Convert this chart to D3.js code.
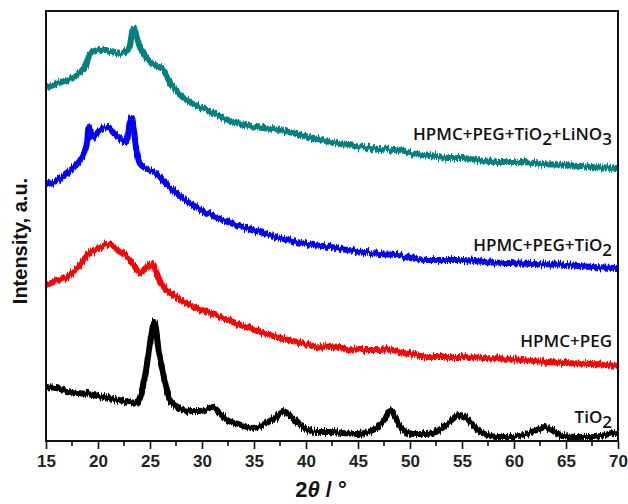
<!DOCTYPE html>
<html><head><meta charset="utf-8">
<script src="https://cdn.jsdelivr.net/npm/d3@7/dist/d3.min.js"></script>
<style>body{margin:0;background:#fff}svg{display:block}</style>
</head><body>
<svg id="chart" width="628" height="504"></svg>
<script>
// ---- data (2θ in degrees, intensity in arbitrary units, offset traces) ----
const xTickValues = [15,20,25,30,35,40,45,50,55,60,65,70];

const lino3Pattern = [[15,353],[16,357],[17,361],[17.6,364],[18.5,371],[18.9,377],[19.2,387],[19.6,390],[20.2,391],[20.7,391],[21.2,389],[21.7,388],[22.1,387],[22.6,389],[23.0,393],[23.4,413],[23.8,401],[24.2,391],[25,379],[25.7,375],[26.3,371],[26.9,359],[27.8,347],[28.8,339],[30.5,331],[32,323],[33.7,317],[35.9,313],[37.5,311],[39.1,307],[40.7,303],[42.3,299],[44,296],[45.5,294],[47,292],[48.5,291],[50,288],[51.9,285],[54,283],[55,283],[56.4,281],[58.5,279],[60.5,279],[62.8,277],[65,276],[67.5,274],[70,273]];

const tio2FilmPattern = [[15,256],[16,261],[17,268],[17.8,275],[18.3,281],[18.9,296],[19.1,314],[19.5,304],[20,309],[20.5,313],[21,314],[21.5,308],[22.1,303],[22.7,299],[23.2,324],[23.7,291],[24,278],[24.8,271],[25.7,267],[26.4,259],[27.2,251],[28,244],[28.8,238],[30.5,228],[32,221],[33,217],[34.5,212],[35.9,208],[37.5,203],[39.1,199],[40.7,196],[42.3,194],[44,191],[45.5,189],[47,187],[48.75,186],[50,183],[51.9,181],[54,181],[55,181],[57,179],[59.6,178],[62,177],[65,176],[67.5,174],[70,173]];

const hpmcPegPattern = [[15,156],[16,160],[17,164],[18,173],[19.2,188],[20,193],[21,196],[21.8,191],[22.8,184],[23.5,175],[24,168],[24.6,173],[25.2,177],[25.6,169],[26,159],[26.6,151],[27.2,146],[28,141],[28.8,136],[30.5,129],[32,123],[33.7,116],[35.9,108],[37.5,103],[39.1,99],[40.7,95],[42.3,94],[44,92],[45.5,91],[47,91],[47.8,92],[49,89],[50.5,86],[52,84],[54,84],[55,84],[57,83],[59.6,82],[62,80],[65,78],[67.5,77],[70,75]];

const tio2Pattern = [[15,54],[16,53],[17,50],[18,48],[19,47],[20,45],[21,43],[22,41],[23,39],[23.75,38],[24.3,53],[24.7,76],[25,98],[25.2,111],[25.4,119],[25.6,111],[25.8,93],[26.1,76],[26.4,61],[26.9,41],[27.5,35],[28.2,31],[29,30],[29.8,30],[30.5,32],[31,34],[31.6,29],[32.4,21],[33.5,17],[34.9,13],[36,17],[37,23],[37.8,30],[38.5,25],[39.4,16],[40.2,11],[41,9],[42.3,9],[43.5,8],[44.9,7],[46,9],[46.8,13],[47.5,21],[48.1,31],[48.6,23],[49.3,11],[50.3,7],[51.6,7],[52.5,9],[53.2,14],[54,21],[54.7,26],[55.3,24],[55.8,19],[56.5,11],[57.4,6],[58.5,4],[59.6,4],[61.2,7],[62.2,11],[63,14],[63.8,10],[64.7,5],[66,4],[67.6,4],[68.8,6],[69.5,8],[70,7]];

const seriesColors = ["#008080","#0000ff","#ff0000","#000000"];

// ---- layout ----
const svg = d3.select("#chart");
const mLeft = 46, mRight = 618, mTop = 11, mBottom = 441;
const x = d3.scaleLinear().domain([15,70]).range([mLeft,mRight]);
const y = d3.scaleLinear().domain([0,430]).range([mBottom,mTop]);

// texture filter that gives the thick traces the grainy look of raw diffractograms
const defs = svg.append("defs");
const f = defs.append("filter").attr("id","grain").attr("x","-2%").attr("y","-10%")
  .attr("width","104%").attr("height","120%").attr("color-interpolation-filters","sRGB");
f.append("feTurbulence").attr("type","fractalNoise").attr("baseFrequency","0.7 0.03")
  .attr("numOctaves",2).attr("seed",4).attr("result","t");
f.append("feColorMatrix").attr("in","t").attr("type","matrix")
  .attr("values","1 0 0 0 0  0 0 0 0 0.5  0 0 0 0 0  0 0 0 0 1").attr("result","m");
f.append("feDisplacementMap").attr("in","SourceGraphic").attr("in2","m").attr("scale",8)
  .attr("xChannelSelector","G").attr("yChannelSelector","R");

const series = [
  {data: lino3Pattern, color: seriesColors[0]},
  {data: tio2FilmPattern, color: seriesColors[1]},
  {data: hpmcPegPattern, color: seriesColors[2]},
  {data: tio2Pattern, color: seriesColors[3]}
];

const line = d3.line().x(d => x(d[0])).y(d => y(d[1])).curve(d3.curveMonotoneX);

const plot = svg.append("g");
plot.selectAll("path.trace").data(series).join("path")
  .attr("class","trace")
  .attr("d", d => line(d.data))
  .attr("fill","none")
  .attr("stroke", d => d.color)
  .attr("stroke-width", 6)
  .attr("stroke-linejoin","round")
  .attr("filter","url(#grain)");

// frame
svg.append("rect").attr("x",mLeft).attr("y",mTop).attr("width",mRight-mLeft).attr("height",mBottom-mTop)
  .attr("fill","none").attr("stroke","#111").attr("stroke-width",2);

// x axis
const xAxis = d3.axisBottom(x).tickValues(xTickValues).tickSize(8).tickSizeOuter(0).tickPadding(6)
  .tickFormat(d3.format("d"));
const gx = svg.append("g").attr("transform",`translate(0,${mBottom})`).call(xAxis);
gx.select(".domain").remove();
gx.selectAll(".tick line").attr("stroke","#111").attr("stroke-width",1.6);
gx.selectAll(".tick text").attr("font-family","Liberation Sans, Arial, sans-serif")
  .attr("font-size",17).attr("font-weight","bold").attr("fill","#222");
// minor ticks
const minor = d3.range(17.5,70,5);
svg.append("g").selectAll("line").data(minor).join("line")
  .attr("x1",d=>x(d)).attr("x2",d=>x(d)).attr("y1",mBottom).attr("y2",mBottom+5)
  .attr("stroke","#111").attr("stroke-width",1.6);

// axis titles
const xt = svg.append("text").attr("x",321).attr("y",497).attr("text-anchor","middle")
  .attr("font-family","Liberation Sans, Arial, sans-serif").attr("font-size",22).attr("font-weight","bold").attr("fill","#111");
xt.append("tspan").text("2");
xt.append("tspan").attr("font-style","italic").text("θ");
xt.append("tspan").text(" / °");

svg.append("text").attr("transform","translate(27,241) rotate(-90)").attr("text-anchor","middle")
  .attr("font-family","Liberation Sans, Arial, sans-serif").attr("font-size",20).attr("font-weight","bold").attr("fill","#111")
  .text("Intensity, a.u.");

// trace labels
const labels = [
  {parts:[["HPMC+PEG+TiO",0],["2",1],["+LiNO",0],["3",1]], yv: 441-140},
  {parts:[["HPMC+PEG+TiO",0],["2",1]], yv: 441-251},
  {parts:[["HPMC+PEG",0]], yv: 441-347},
  {parts:[["TiO",0],["2",1]], yv: 441-423}
];
labels.forEach(l => {
  const t = svg.append("text").attr("x",612).attr("y",y(l.yv)).attr("text-anchor","end")
    .attr("font-family","Open Sans, sans-serif").attr("font-size",17).attr("font-weight",600).attr("fill","#111");
  let prev = 0;
  l.parts.forEach(([s,sub]) => {
    const dy = (sub - prev) * 5;
    const ts = t.append("tspan").text(s);
    if (dy) ts.attr("dy", dy);
    prev = sub;
  });
});
</script>
</body></html>
